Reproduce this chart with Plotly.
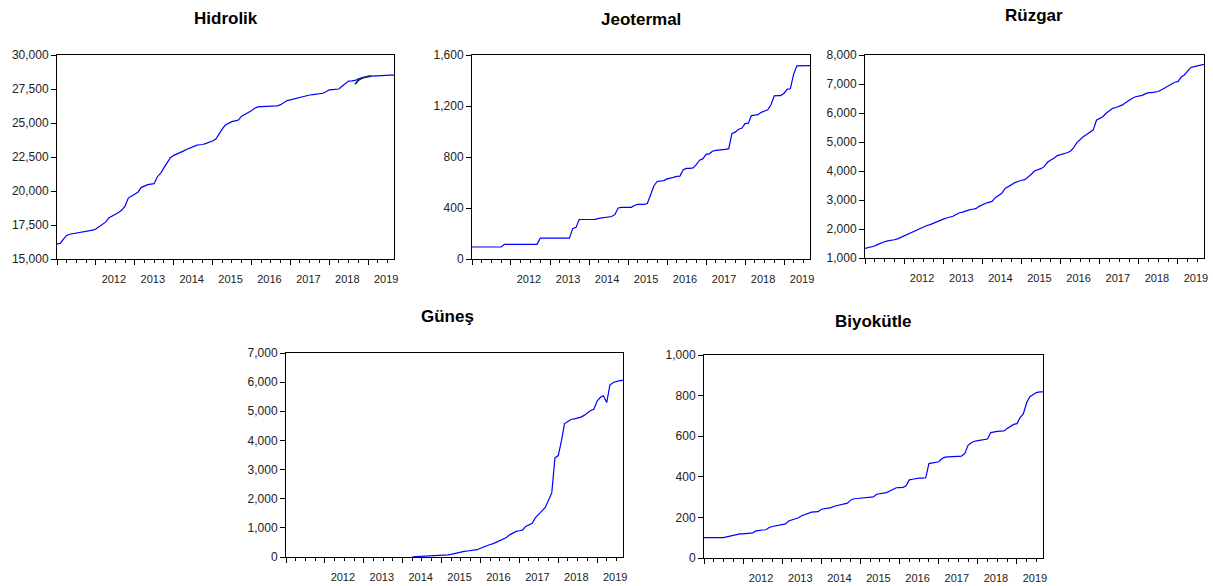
import pandas as pd
import plotly.graph_objects as go

# ---------------- data (monthly, 2011M01 - 2019M09) ----------------
months = pd.date_range("2011-01-01", periods=105, freq="MS")

hidrolik = [16110, 16150, 16450, 16730, 16820, 16860, 16900, 16920, 16950, 17000,
            17050, 17120, 17200, 17390, 17550, 17710, 18020, 18150, 18250, 18420,
            18600, 18890, 19480, 19620, 19750, 19930, 20250, 20380, 20470, 20510,
            20540, 21050, 21320, 21700, 22100, 22450, 22620, 22710, 22820, 22930,
            23050, 23150, 23270, 23350, 23400, 23420, 23500, 23570, 23680, 23820,
            24200, 24550, 24850, 25000, 25100, 25160, 25220, 25500, 25640, 25720,
            25900, 26080, 26180, 26210, 26220, 26230, 26240, 26250, 26260, 26350,
            26500, 26650, 26700, 26760, 26820, 26900, 26970, 27020, 27060, 27090,
            27120, 27150, 27190, 27300, 27440, 27460, 27470, 27500, 27700, 27900,
            28080, 28100, 28130, 28250, 28320, 28370, 28420, 28440, 28460, 28470,
            28480, 28500, 28510, 28520, 28520]
hidrolik_overlay = [None] * 92 + [27850, 28150, 28300, 28380, 28420, 28440] + [None] * 7

jeotermal = ([94] * 10 + [115] * 11 + [163] * 10 +
             [238, 248, 310, 311, 311, 311, 311, 311, 318, 322,
              330, 332, 333, 350, 400, 405, 405, 405, 405, 420,
              428, 428, 428, 435, 510, 575, 608, 612, 615, 628,
              632, 640, 648, 650, 700, 711, 711, 714, 740, 775,
              785, 821, 825, 845, 852, 853, 855, 860, 865, 985,
              995, 1018, 1025, 1062, 1065, 1125, 1128, 1132, 1150, 1157,
              1170, 1210, 1280, 1282, 1282, 1300, 1332, 1335, 1450, 1515,
              1516, 1516, 1516, 1516])

ruzgar = [1330, 1360, 1390, 1414, 1470, 1520, 1560, 1590, 1600, 1630,
          1660, 1710, 1780, 1820, 1880, 1930, 1990, 2040, 2090, 2120,
          2150, 2200, 2260, 2290, 2340, 2380, 2400, 2440, 2500, 2560,
          2580, 2630, 2660, 2680, 2700, 2780, 2840, 2890, 2920, 2950,
          3080, 3150, 3230, 3400, 3480, 3530, 3600, 3650, 3680, 3700,
          3780, 3880, 4000, 4040, 4080, 4150, 4300, 4380, 4440, 4530,
          4560, 4590, 4630, 4680, 4800, 4980, 5100, 5190, 5260, 5330,
          5420, 5750, 5820, 5880, 5990, 6070, 6160, 6190, 6230, 6280,
          6360, 6450, 6510, 6560, 6580, 6610, 6660, 6700, 6700, 6710,
          6740, 6800, 6860, 6930, 6990, 7060, 7080, 7240, 7310, 7450,
          7570, 7600, 7630, 7670, 7680]

gunes = ([None] * 39 +
         [5, 10, 20, 25, 28, 30, 33, 38, 45, 55,
          65, 75, 90, 120, 150, 175, 190, 205, 215, 225,
          250, 300, 350, 380, 430, 460, 520, 570, 620, 670,
          760, 830, 880, 900, 930, 1050, 1110, 1160, 1350, 1450,
          1580, 1700, 1950, 2200, 3400, 3480, 4000, 4580, 4650, 4720,
          4740, 4760, 4800, 4860, 4950, 5030, 5070, 5350, 5480, 5530,
          5300, 5900, 5990, 6030, 6050, 6060])

biyokutle = ([100] * 7 +
             [104, 108, 114, 118, 119, 119, 120, 121, 124, 134,
              137, 138, 139, 150, 155, 158, 160, 162, 168, 182,
              187, 192, 198, 208, 214, 218, 226, 227, 228, 240,
              243, 243, 248, 255, 259, 265, 268, 270, 285, 292,
              293, 295, 298, 299, 300, 301, 314, 317, 318, 322,
              330, 338, 346, 347, 348, 356, 385, 388, 392, 393,
              393, 395, 465, 468, 470, 474, 490, 497, 498, 499,
              500, 500, 502, 515, 555, 568, 575, 578, 582, 584,
              586, 618, 622, 624, 625, 626, 638, 650, 658, 662,
              693, 710, 765, 795, 805, 815, 818, 818])

titles = ["Hidrolik", "Jeotermal", "Rüzgar", "Güneş", "Biyokütle"]
series = [hidrolik, jeotermal, ruzgar, gunes, biyokutle]
y_ranges = [(15000, 30000), (0, 1600), (1000, 8000), (0, 7000), (0, 1000)]
y_dticks = [2500, 400, 1000, 1000, 200]
year_ticks = list(range(2011, 2020))
year_labels = [""] + [str(y) for y in range(2012, 2020)]

# ---------------- layout geometry (window pixels) ----------------
W, H = 1213, 586
boxes = [  # left, right, top, bottom
    (57, 394, 55, 259),
    (472, 810, 55, 259),
    (865, 1204, 55, 258),
    (286, 623, 353, 557),
    (704, 1043, 355, 558),
]
title_pos = [(226, 18), (641, 20), (1034, 15), (447, 316), (873, 321)]


def px(x):
    return x / W


def py(y):
    return 1 - y / H


FONT = "Liberation Sans, Arial, sans-serif"
fig = go.Figure()
layout = dict(
    template="none",
    width=W, height=H,
    margin=dict(l=0, r=0, t=0, b=0, autoexpand=False),
    paper_bgcolor="white", plot_bgcolor="white",
    showlegend=False,
    font=dict(family=FONT, color="#222222"),
    annotations=[],
)

for i, (name, vals) in enumerate(zip(titles, series)):
    k = "" if i == 0 else str(i + 1)
    l, r, t, b = boxes[i]
    fig.add_trace(go.Scatter(x=months, y=vals, mode="lines",
                             line=dict(color="#0000FF", width=1.2),
                             connectgaps=False, hoverinfo="skip",
                             xaxis="x" + k, yaxis="y" + k))
    if i == 0:
        fig.add_trace(go.Scatter(x=months, y=hidrolik_overlay, mode="lines",
                                 line=dict(color="#0B2A66", width=1.8),
                                 hoverinfo="skip", xaxis="x", yaxis="y"))
    layout["xaxis" + k] = dict(
        domain=[px(l), px(r)], anchor="y" + k, type="date",
        range=[months[0], months[-1]], automargin=False,
        tickmode="array",
        tickvals=[pd.Timestamp(f"{y}-01-01") for y in year_ticks],
        ticktext=year_labels,
        ticks="outside", ticklen=5, tickcolor="black", tickwidth=1,
        minor=dict(dtick="M3", tick0="2011-01-01", ticks="outside",
                   ticklen=3, tickcolor="black", tickwidth=1, showgrid=False),
        ticklabelshift=18, ticklabelstandoff=5, ticklabeloverflow="allow",
        tickfont=dict(size=11, color="#222222", family=FONT),
        showline=True, linecolor="black", linewidth=1, mirror=True,
        showgrid=False, zeroline=False, fixedrange=True,
    )
    y0, y1 = y_ranges[i]
    layout["yaxis" + k] = dict(
        domain=[py(b), py(t)], anchor="x" + k, automargin=False,
        range=[y0, y1], tickmode="linear", tick0=y0, dtick=y_dticks[i],
        tickformat=",d",
        ticks="outside", ticklen=5, tickcolor="black", tickwidth=1,
        tickfont=dict(size=12, color="#222222", family=FONT),
        showline=True, linecolor="black", linewidth=1, mirror=True,
        showgrid=False, zeroline=False, fixedrange=True,
    )
    tx, ty = title_pos[i]
    layout["annotations"].append(dict(
        text=f"<b>{name}</b>", x=px(tx), y=py(ty), xref="paper", yref="paper",
        xanchor="center", yanchor="middle", showarrow=False,
        font=dict(size=17, color="black", family=FONT)))

fig.update_layout(**layout)
fig.write_html(
    "out.html",
    config={"displayModeBar": False, "staticPlot": True},
    post_script="document.documentElement.style.margin='0';"
                "document.body.style.margin='0';"
                "document.body.style.overflow='hidden';",
)
